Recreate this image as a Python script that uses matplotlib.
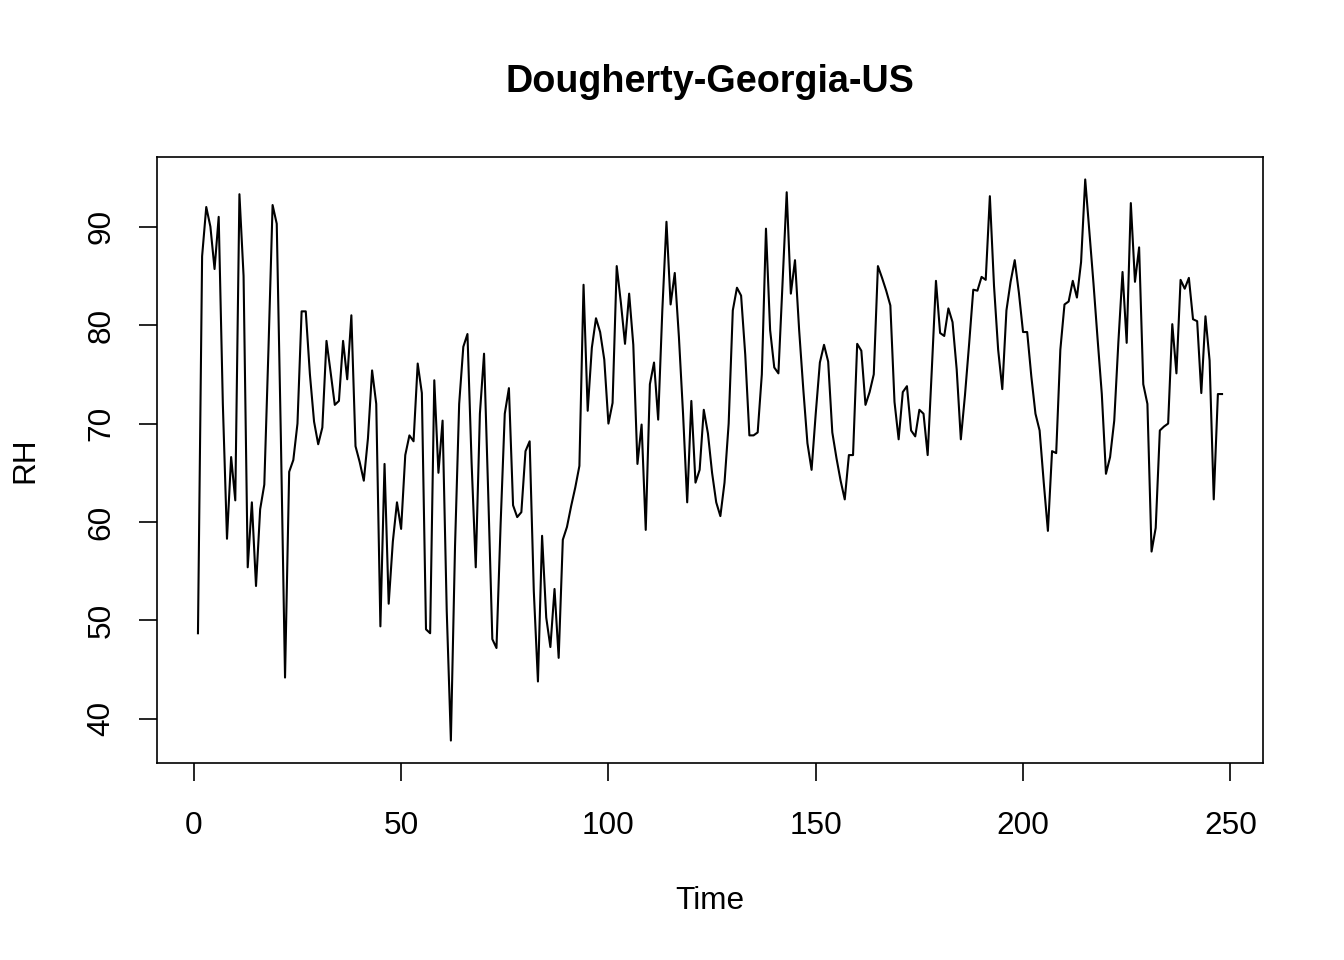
import numpy as np
import matplotlib
matplotlib.use("Agg")
import matplotlib.pyplot as plt

title = "Dougherty-Georgia-US"
x_label = "Time"
y_label = "RH"
x_ticks = [0, 50, 100, 150, 200, 250]
y_ticks = [40, 50, 60, 70, 80, 90]

rh = [
    48.7, 87.0, 92.0, 90.0, 85.7, 91.0, 72.0, 58.3, 66.6, 62.2,
    93.3, 85.0, 55.4, 62.0, 53.5, 61.3, 63.8, 77.5, 92.2, 90.3,
    68.5, 44.2, 65.1, 66.3, 70.0, 81.4, 81.4, 75.0, 70.2, 67.9,
    69.6, 78.4, 75.2, 71.9, 72.3, 78.4, 74.5, 81.0, 67.7, 66.1,
    64.2, 68.5, 75.4, 72.0, 49.4, 65.9, 51.7, 58.0, 62.0, 59.3,
    66.8, 68.8, 68.2, 76.1, 73.1, 49.1, 48.7, 74.4, 65.0, 70.3,
    51.0, 37.8, 57.5, 72.0, 77.8, 79.1, 66.0, 55.4, 71.0, 77.1,
    63.0, 48.1, 47.2, 59.8, 71.0, 73.6, 61.7, 60.5, 61.0, 67.2,
    68.2, 53.0, 43.8, 58.6, 50.3, 47.3, 53.2, 46.2, 58.2, 59.5,
    61.6, 63.5, 65.7, 84.1, 71.3, 77.7, 80.7, 79.3, 76.5, 70.0,
    72.1, 86.0, 82.3, 78.1, 83.2, 78.0, 65.9, 69.9, 59.2, 74.0,
    76.2, 70.4, 81.5, 90.5, 82.1, 85.3, 78.8, 71.0, 62.0, 72.3,
    64.0, 65.3, 71.4, 69.0, 65.0, 62.0, 60.6, 64.0, 70.0, 81.5,
    83.8, 83.0, 77.0, 68.8, 68.8, 69.1, 75.0, 89.8, 79.5, 75.7,
    75.1, 84.3, 93.5, 83.2, 86.6, 79.5, 73.5, 68.0, 65.3, 71.0,
    76.2, 78.0, 76.3, 69.1, 66.5, 64.2, 62.3, 66.8, 66.8, 78.1,
    77.4, 71.9, 73.2, 75.0, 86.0, 84.8, 83.5, 82.0, 72.2, 68.4,
    73.2, 73.8, 69.3, 68.7, 71.4, 71.0, 66.8, 75.5, 84.5, 79.2,
    78.9, 81.7, 80.3, 75.5, 68.4, 72.9, 78.1, 83.6, 83.5, 84.9,
    84.6, 93.1, 84.0, 77.5, 73.5, 81.5, 84.4, 86.6, 83.3, 79.3,
    79.3, 74.8, 71.0, 69.3, 64.0, 59.1, 67.2, 67.0, 77.5, 82.1,
    82.4, 84.5, 82.8, 86.4, 94.8, 89.5, 84.2, 78.5, 73.0, 64.9,
    66.6, 70.3, 78.3, 85.4, 78.2, 92.4, 84.4, 87.9, 74.0, 72.0,
    57.0, 59.4, 69.3, 69.7, 70.0, 80.1, 75.1, 84.6, 83.7, 84.8,
    80.6, 80.4, 73.1, 80.9, 76.4, 62.3, 73.0, 73.0,
]
time = np.arange(1, len(rh) + 1)

plt.rcParams['font.family'] = ['Liberation Sans', 'DejaVu Sans']

W, H = 1344, 960
fig = plt.figure(figsize=(W / 100, H / 100), dpi=100)
fig.patch.set_facecolor('white')
ax = fig.add_axes([157 / W, (H - 763) / H, (1263 - 157) / W, (763 - 157) / H])

ax.plot(time, rh, color='black', linewidth=1.5)

def expand(lo, hi):
    d = (hi - lo) * 0.04
    return lo - d, hi + d

ax.set_xlim(*expand(time.min(), time.max()))
ax.set_ylim(*expand(min(rh), max(rh)))

ax.set_xticks(x_ticks)
ax.set_yticks(y_ticks)
ax.set_xticklabels([str(v) for v in x_ticks])
ax.set_yticklabels([str(v) for v in y_ticks], rotation=90, va='center')
ax.tick_params(axis='both', direction='out', length=13, width=1.2,
               labelsize=22.7, color='black')
ax.tick_params(axis='x', pad=21.5)
ax.tick_params(axis='y', pad=16)

for s in ax.spines.values():
    s.set_linewidth(1.2)
    s.set_color('black')

fig.text(710 / W, 1 - 82 / H, title, ha='center', va='center',
         fontsize=27.2, fontweight='bold')
fig.text(710 / W, 1 - 901 / H, x_label, ha='center', va='center', fontsize=22.7)
fig.text(25 / W, 1 - 460 / H, y_label, ha='center', va='center',
         fontsize=22.7, rotation=90)

fig.savefig('out.png', dpi=100, facecolor='white')
